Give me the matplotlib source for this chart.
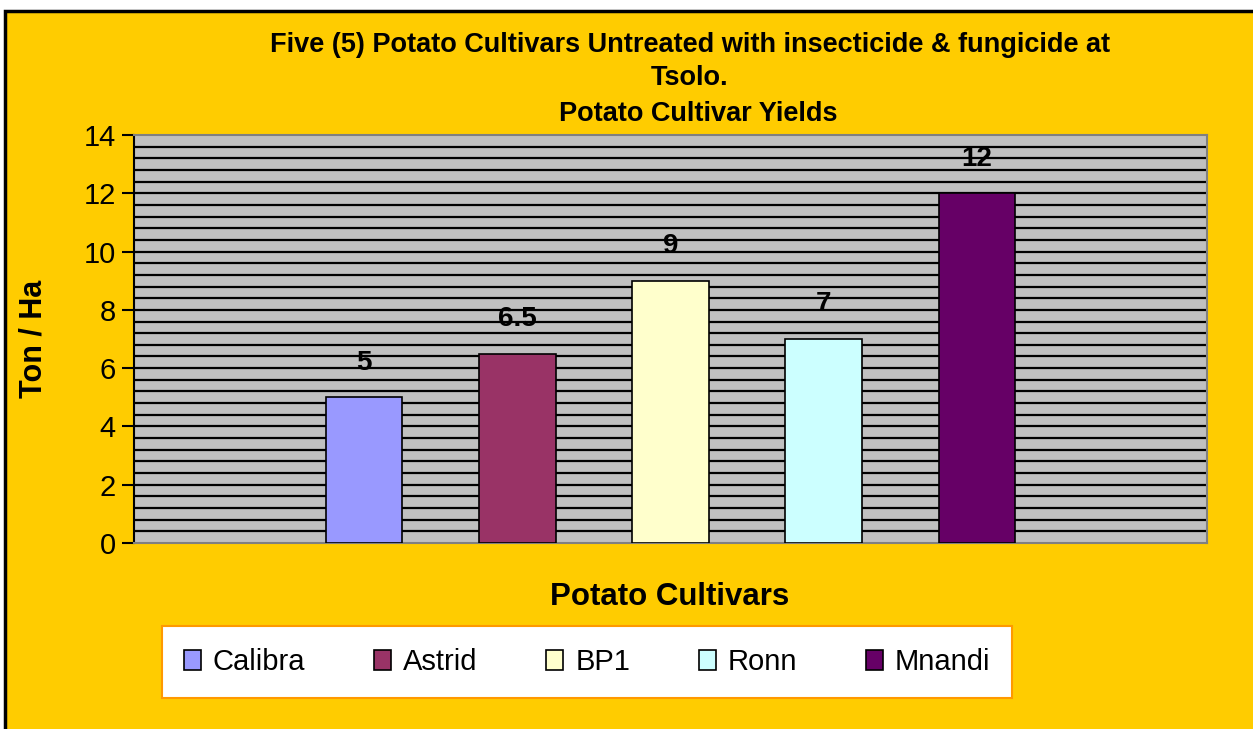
import matplotlib.pyplot as plt
from matplotlib.patches import Rectangle
import numpy as np

cultivars = ['Calibra', 'Astrid', 'BP1', 'Ronn', 'Mnandi']
yields = [5, 6.5, 9, 7, 12]
bar_colors = ['#9999FF', '#993366', '#FFFFCC', '#CCFFFF', '#660066']
value_labels = ['5', '6.5', '9', '7', '12']

plt.rcParams['font.family'] = ['Liberation Sans', 'DejaVu Sans']

fig = plt.figure(figsize=(12.53, 7.29), dpi=100)
fig.patch.set_facecolor('white')

# gold background with black frame on left/top (right/bottom run off the picture)
fig.patches.append(Rectangle((5 / 1253, -0.05), 1.1, 1 - 11 / 729 + 0.05,
                             transform=fig.transFigure, facecolor='#FFCC00',
                             edgecolor='black', linewidth=2.5, zorder=-10))

ax = fig.add_axes([134 / 1253, 1 - 543 / 729, (1207 - 134) / 1253, (543 - 135) / 729])
ax.set_facecolor('#C0C0C0')

pos = np.arange(1, len(cultivars) + 1)
bars = ax.bar(pos, yields, width=0.5, color=bar_colors, edgecolor='black',
              linewidth=1.2, zorder=3, label=cultivars)

for b, lab in zip(bars, value_labels):
    ax.annotate(lab, (b.get_x() + b.get_width() / 2, b.get_height()),
                xytext=(0, 25), textcoords='offset points', ha='center', va='center',
                fontsize=20, fontweight='bold', zorder=4)

ax.set_xlim(-0.5, 6.5)
ax.set_ylim(0, 14)
ax.set_yticks(np.arange(0, 15, 2))
for g in np.arange(0.4, 14, 0.4):
    ax.axhline(g, color='black', linewidth=1.6, zorder=1)
ax.set_xticks([])
ax.tick_params(axis='y', direction='out', length=9, width=1.5, labelsize=21, pad=4)
ax.spines['left'].set_color('black')
ax.spines['left'].set_linewidth(1.5)
for s in ['top', 'right', 'bottom']:
    ax.spines[s].set_color('#808080')
    ax.spines[s].set_linewidth(1.5)

ax.set_ylabel('Ton / Ha', fontsize=22, fontweight='bold')
ax.yaxis.set_label_coords(-0.08, 0.5)

fig.text(690 / 1253, 1 - 45 / 729,
         'Five (5) Potato Cultivars Untreated with insecticide & fungicide at',
         ha='center', va='center', fontsize=19.5, fontweight='bold')
fig.text(690 / 1253, 1 - 78 / 729, 'Tsolo.', ha='center', va='center',
         fontsize=19.5, fontweight='bold')
fig.text(698 / 1253, 1 - 114 / 729, 'Potato Cultivar Yields', ha='center',
         va='center', fontsize=19.5, fontweight='bold')
fig.text(670 / 1253, 1 - 597 / 729, 'Potato Cultivars', ha='center', va='center',
         fontsize=22.5, fontweight='bold')

leg = fig.legend(handles=list(bars), labels=cultivars, loc='center',
                 bbox_to_anchor=(587 / 1253, 1 - 662 / 729), ncol=5, fontsize=21,
                 frameon=True, fancybox=False, handlelength=0.6, handleheight=0.7,
                 handletextpad=0.4, columnspacing=2.35, borderpad=0.75, borderaxespad=0)
leg.get_frame().set_edgecolor('#FF9900')
leg.get_frame().set_linewidth(1.5)
leg.get_frame().set_facecolor('white')
leg.get_frame().set_alpha(1)

fig.savefig('out.png', dpi=100, facecolor=fig.get_facecolor())
